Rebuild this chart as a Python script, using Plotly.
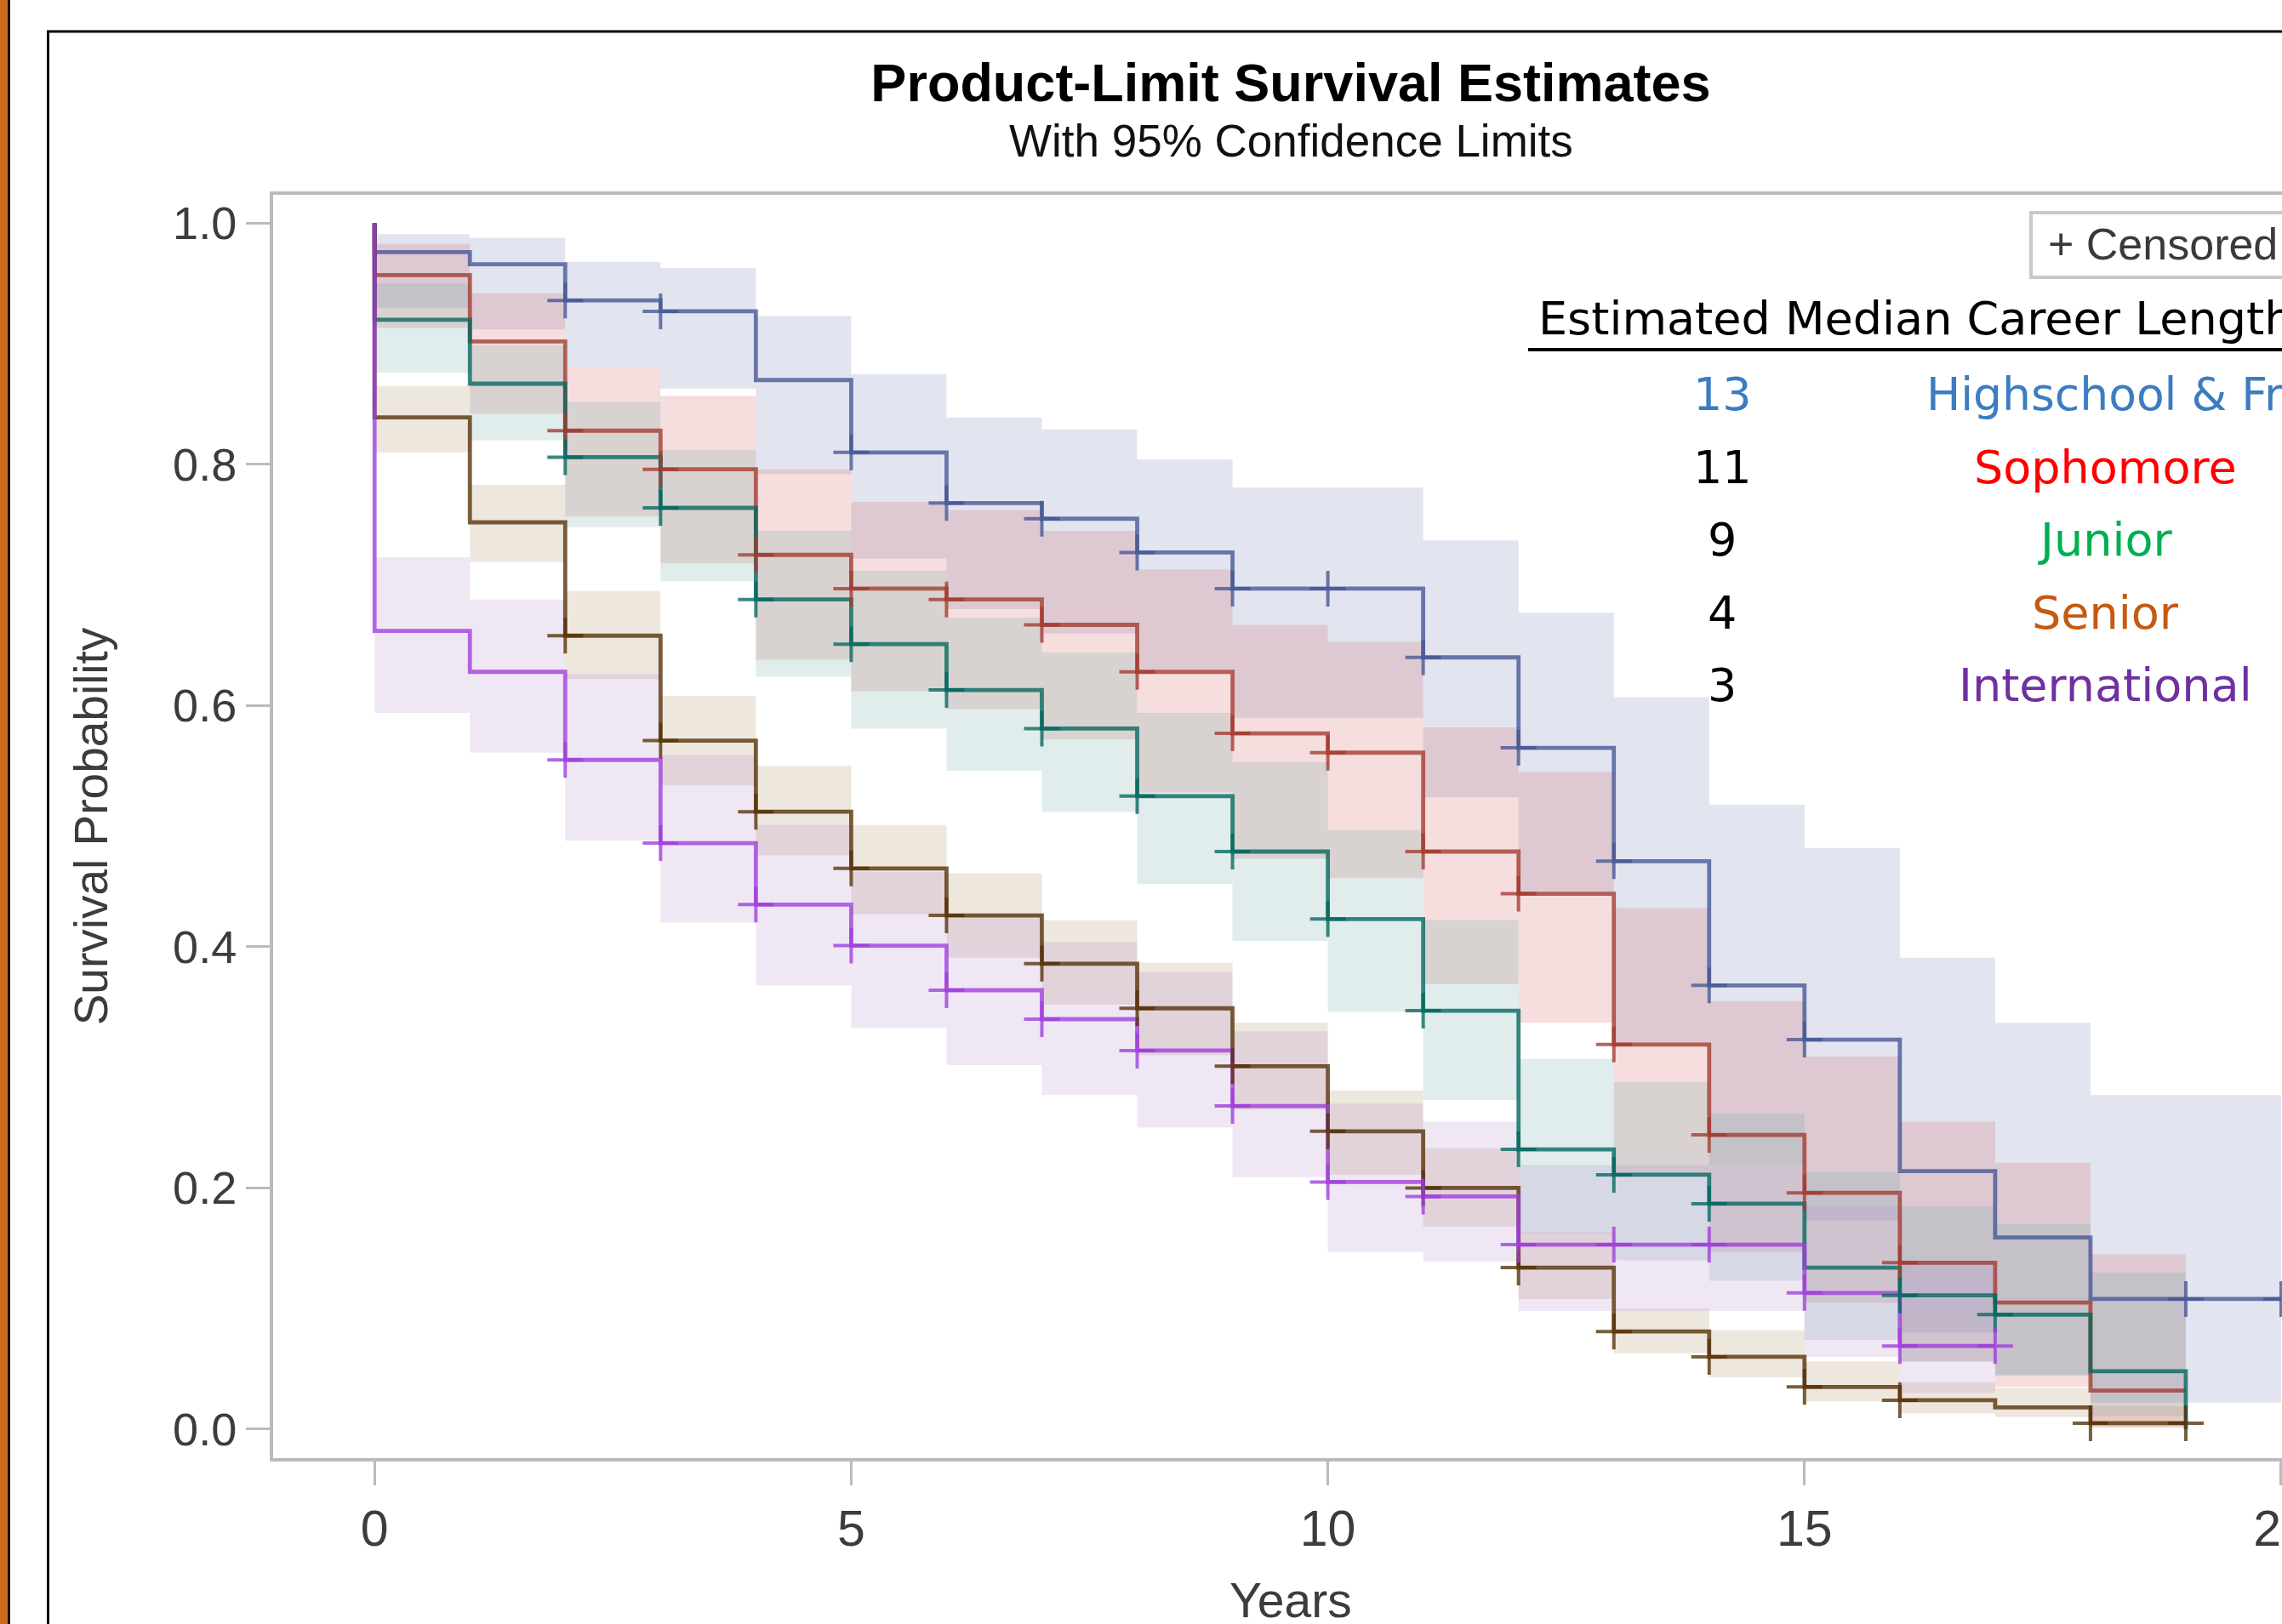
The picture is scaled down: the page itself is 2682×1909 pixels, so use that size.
import plotly.graph_objects as go

# ---------------- data ----------------
interval_start = list(range(0, 20))          # step start times (years)
x_ticks = [0, 5, 10, 15, 20]
y_ticks = [0.0, 0.2, 0.4, 0.6, 0.8, 1.0]

group_names = ["Highschool & Freshman", "Sophomore", "Junior", "Senior", "International"]
median_years = ["13", "11", "9", "4", "3"]

# Highschool & Freshman
hf_surv  = [0.976, 0.966, 0.936, 0.927, 0.870, 0.810, 0.768, 0.755, 0.727, 0.697,
            0.697, 0.640, 0.565, 0.471, 0.368, 0.323, 0.214, 0.159, 0.108, 0.108]
hf_upper = [0.991, 0.988, 0.968, 0.963, 0.923, 0.875, 0.839, 0.829, 0.804, 0.781,
            0.781, 0.737, 0.677, 0.607, 0.518, 0.482, 0.391, 0.337, 0.277, 0.277]
hf_lower = [0.930, 0.912, 0.880, 0.863, 0.792, 0.722, 0.680, 0.660, 0.630, 0.590,
            0.590, 0.524, 0.445, 0.320, 0.219, 0.173, 0.080, 0.045, 0.022, 0.022]
hf_end, hf_last = 20, 0.108
hf_censor = [2, 3, 5, 6, 7, 8, 9, 10, 11, 12, 13, 14, 15, 19, 20]

# Sophomore
so_surv  = [0.957, 0.902, 0.828, 0.796, 0.725, 0.697, 0.688, 0.667, 0.628, 0.577,
            0.561, 0.479, 0.444, 0.319, 0.244, 0.196, 0.138, 0.105, 0.032]
so_upper = [0.983, 0.942, 0.880, 0.857, 0.796, 0.769, 0.762, 0.745, 0.713, 0.667,
            0.653, 0.582, 0.545, 0.432, 0.355, 0.309, 0.255, 0.221, 0.145]
so_lower = [0.913, 0.842, 0.757, 0.718, 0.638, 0.612, 0.597, 0.572, 0.528, 0.473,
            0.457, 0.369, 0.337, 0.211, 0.147, 0.105, 0.056, 0.035, 0.002]
so_end, so_last = 19, 0.032
so_censor = [2, 3, 4, 5, 6, 7, 8, 9, 10, 11, 12, 13, 14, 15, 16]

# Junior
ju_surv  = [0.920, 0.867, 0.806, 0.764, 0.688, 0.651, 0.613, 0.581, 0.525, 0.479,
            0.423, 0.347, 0.232, 0.211, 0.187, 0.134, 0.111, 0.095, 0.048]
ju_upper = [0.950, 0.899, 0.852, 0.812, 0.745, 0.712, 0.673, 0.644, 0.594, 0.553,
            0.497, 0.422, 0.307, 0.288, 0.262, 0.213, 0.185, 0.170, 0.130]
ju_lower = [0.876, 0.820, 0.748, 0.703, 0.624, 0.581, 0.546, 0.512, 0.452, 0.405,
            0.346, 0.273, 0.162, 0.140, 0.123, 0.074, 0.056, 0.044, 0.011]
ju_end, ju_last = 19, 0.0
ju_censor = [2, 3, 4, 5, 6, 7, 8, 9, 10, 11, 12, 13, 14, 16, 17]

# Senior
se_surv  = [0.839, 0.752, 0.658, 0.571, 0.512, 0.465, 0.426, 0.386, 0.349, 0.301,
            0.247, 0.200, 0.134, 0.081, 0.060, 0.035, 0.024, 0.018, 0.005]
se_upper = [0.865, 0.783, 0.695, 0.608, 0.550, 0.501, 0.461, 0.422, 0.387, 0.337,
            0.281, 0.233, 0.163, 0.100, 0.082, 0.056, 0.039, 0.034, 0.019]
se_lower = [0.810, 0.719, 0.622, 0.534, 0.476, 0.427, 0.391, 0.352, 0.310, 0.265,
            0.211, 0.168, 0.108, 0.063, 0.043, 0.023, 0.013, 0.010, 0.001]
se_end, se_last = 19, 0.005
se_censor = [2, 3, 4, 5, 6, 7, 8, 9, 10, 11, 12, 13, 14, 15, 16, 18, 19]

# International
in_surv  = [0.662, 0.628, 0.555, 0.486, 0.435, 0.401, 0.364, 0.340, 0.314, 0.268,
            0.205, 0.193, 0.153, 0.153, 0.153, 0.113, 0.069]
in_upper = [0.723, 0.688, 0.626, 0.559, 0.501, 0.462, 0.427, 0.404, 0.379, 0.330,
            0.270, 0.255, 0.219, 0.219, 0.219, 0.185, 0.140]
in_lower = [0.594, 0.561, 0.488, 0.420, 0.368, 0.333, 0.302, 0.277, 0.250, 0.209,
            0.147, 0.139, 0.098, 0.098, 0.098, 0.060, 0.030]
in_end, in_last = 17, 0.069
in_censor = [2, 3, 4, 5, 6, 7, 8, 9, 10, 11, 12, 13, 14, 15, 16, 17]

series = [
    dict(name=group_names[0], surv=hf_surv, up=hf_upper, lo=hf_lower, end=hf_end, last=hf_last,
         cens=hf_censor, line=(68, 86, 148), fill=(111, 126, 179)),
    dict(name=group_names[1], surv=so_surv, up=so_upper, lo=so_lower, end=so_end, last=so_last,
         cens=so_censor, line=(162, 58, 46), fill=(208, 91, 91)),
    dict(name=group_names[2], surv=ju_surv, up=ju_upper, lo=ju_lower, end=ju_end, last=ju_last,
         cens=ju_censor, line=(1, 102, 94), fill=(102, 165, 160)),
    dict(name=group_names[3], surv=se_surv, up=se_upper, lo=se_lower, end=se_end, last=se_last,
         cens=se_censor, line=(84, 48, 5), fill=(169, 134, 91)),
    dict(name=group_names[4], surv=in_surv, up=in_upper, lo=in_lower, end=in_end, last=in_last,
         cens=in_censor, line=(157, 60, 219), fill=(182, 137, 205)),
]

table_colors = ["#3C7CC0", "#FF0000", "#00B050", "#C55A11", "#7030A0"]
number_colors = ["#3C7CC0", "#000000", "#000000", "#000000", "#000000"]

# ---------------- layout geometry (pixels) ----------------
W, H = 2682, 1909
PL, PR, PT, PB = 321, 2682, 229, 1714


def px_x(p):
    return (p - PL) / (PR - PL)


def px_y(p):
    return (PB - p) / (PB - PT)


def rgba(c, a):
    return "rgba(%d,%d,%d,%.3f)" % (c[0], c[1], c[2], a)


fig = go.Figure()

# confidence bands
for s in series:
    n = len(s["surv"])
    xs = interval_start[:n] + [s["end"]]
    lo = s["lo"] + [s["lo"][-1]]
    up = s["up"] + [s["up"][-1]]
    fig.add_trace(go.Scatter(x=xs, y=lo, mode="lines", line=dict(width=0, shape="hv"),
                             hoverinfo="skip", showlegend=False))
    fig.add_trace(go.Scatter(x=xs, y=up, mode="lines", line=dict(width=0, shape="hv"),
                             fill="tonexty", fillcolor=rgba(s["fill"], 0.20),
                             hoverinfo="skip", showlegend=False))

# survival step lines
for s in series:
    n = len(s["surv"])
    xs = [0] + interval_start[:n] + [s["end"]]
    ys = [1.0] + s["surv"] + [s["last"]]
    fig.add_trace(go.Scatter(x=xs, y=ys, mode="lines", name=s["name"],
                             line=dict(color=rgba(s["line"], 0.78), width=4.8, shape="hv"),
                             showlegend=False))

# censor marks
for s in series:
    cy = []
    for t in s["cens"]:
        cy.append(s["surv"][t] if t < len(s["surv"]) else s["last"])
    fig.add_trace(go.Scatter(x=s["cens"], y=cy, mode="markers", name="Censored",
                             marker=dict(symbol="cross-thin", size=30,
                                         line=dict(color=rgba(s["line"], 0.78), width=4)),
                             showlegend=False))

shapes = [
    # wood strip + frame
    dict(type="rect", xref="paper", yref="paper", x0=px_x(0), x1=px_x(9), y0=px_y(H), y1=px_y(0),
         fillcolor="#C96A1E", line=dict(width=0), layer="above"),
    dict(type="rect", xref="paper", yref="paper", x0=px_x(9), x1=px_x(12), y0=px_y(H), y1=px_y(0),
         fillcolor="#1a1208", line=dict(width=0), layer="above"),
    dict(type="line", xref="paper", yref="paper", x0=px_x(56.5), x1=px_x(56.5), y0=px_y(36), y1=px_y(H),
         line=dict(color="black", width=3), layer="above"),
    dict(type="line", xref="paper", yref="paper", x0=px_x(55), x1=px_x(W + 5), y0=px_y(37), y1=px_y(37),
         line=dict(color="black", width=3), layer="above"),
    # table underline
    dict(type="line", xref="paper", yref="paper", x0=px_x(1796), x1=px_x(W + 5), y0=px_y(411), y1=px_y(411),
         line=dict(color="black", width=4), layer="above"),
    # censored legend box
    dict(type="rect", xref="paper", yref="paper", x0=px_x(2387), x1=px_x(W + 40), y0=px_y(326), y1=px_y(250),
         fillcolor="white", line=dict(color="#c9c9c9", width=4), layer="above"),
]

ann = [
    dict(text="With 95% Confidence Limits", x=px_x(1517), y=px_y(166), xref="paper", yref="paper",
         xanchor="center", yanchor="middle", showarrow=False,
         font=dict(family="Liberation Sans, Arial", size=53, color="#111111")),
    dict(text="Years", x=px_x(1517), y=px_y(1881), xref="paper", yref="paper",
         xanchor="center", yanchor="middle", showarrow=False,
         font=dict(family="Liberation Sans, Arial", size=57, color="#3c3c3c")),
    dict(text="+ Censored", x=px_x(2405), y=px_y(287), xref="paper", yref="paper",
         xanchor="left", yanchor="middle", showarrow=False,
         font=dict(family="Liberation Sans, Arial", size=52, color="#3a3a3a")),
    dict(text="Estimated Median Career Length", x=px_x(1806), y=px_y(374), xref="paper", yref="paper",
         xanchor="left", yanchor="middle", showarrow=False,
         font=dict(family="DejaVu Sans", size=54, color="black")),
]
row_y = [463, 549, 634, 720, 805]
for i in range(5):
    ann.append(dict(text=median_years[i], x=px_x(2024), y=px_y(row_y[i]), xref="paper", yref="paper",
                    xanchor="center", yanchor="middle", showarrow=False,
                    font=dict(family="DejaVu Sans", size=54, color=number_colors[i])))
    if i == 0:
        ann.append(dict(text=group_names[i], x=px_x(2262), y=px_y(row_y[i]), xref="paper", yref="paper",
                        xanchor="left", yanchor="middle", showarrow=False,
                        font=dict(family="DejaVu Sans", size=53.5, color=table_colors[i])))
    else:
        ann.append(dict(text=group_names[i], x=px_x(2474), y=px_y(row_y[i]), xref="paper", yref="paper",
                        xanchor="center", yanchor="middle", showarrow=False,
                        font=dict(family="DejaVu Sans", size=54, color=table_colors[i])))

yfont = dict(family="Liberation Sans, Arial", size=54, color="#3c3c3c")
xfont = dict(family="Liberation Sans, Arial", size=59, color="#3c3c3c")

fig.update_layout(
    template="none",
    width=W, height=H,
    margin=dict(l=PL, r=W - PR, t=PT, b=H - PB, pad=0),
    paper_bgcolor="white", plot_bgcolor="white",
    showlegend=False,
    title=dict(text="<b>Product-Limit Survival Estimates</b>", x=1517 / W, xref="container", xanchor="center",
               y=1 - 97 / H, yref="container", yanchor="middle",
               font=dict(family="Liberation Sans, Arial", size=63, color="black")),
    xaxis=dict(range=[-1.064, 20.009], tickvals=x_ticks, ticks="outside", ticklen=28, tickwidth=3,
               tickcolor="#b8bcc0", showline=True, linecolor="#b8bcc0", linewidth=4, mirror=True,
               showgrid=False, zeroline=False, automargin=False, tickfont=xfont,
               ticklabeloverflow="allow"),
    yaxis=dict(range=[-0.024, 1.0236], tickvals=y_ticks, tickformat=".1f", ticks="outside", ticklen=28,
               tickwidth=3, tickcolor="#b8bcc0", showline=True, linecolor="#b8bcc0", linewidth=4,
               mirror=False, showgrid=False, zeroline=False, automargin=False, tickfont=yfont,
               title=dict(text="Survival Probability",
                          font=dict(family="Liberation Sans, Arial", size=55, color="#3c3c3c"),
                          standoff=60)),
    shapes=shapes,
    annotations=ann,
)

fig.write_html("out.html", config={"displayModeBar": False},
               post_script="document.body.style.margin='0';document.body.style.overflow='hidden';")
